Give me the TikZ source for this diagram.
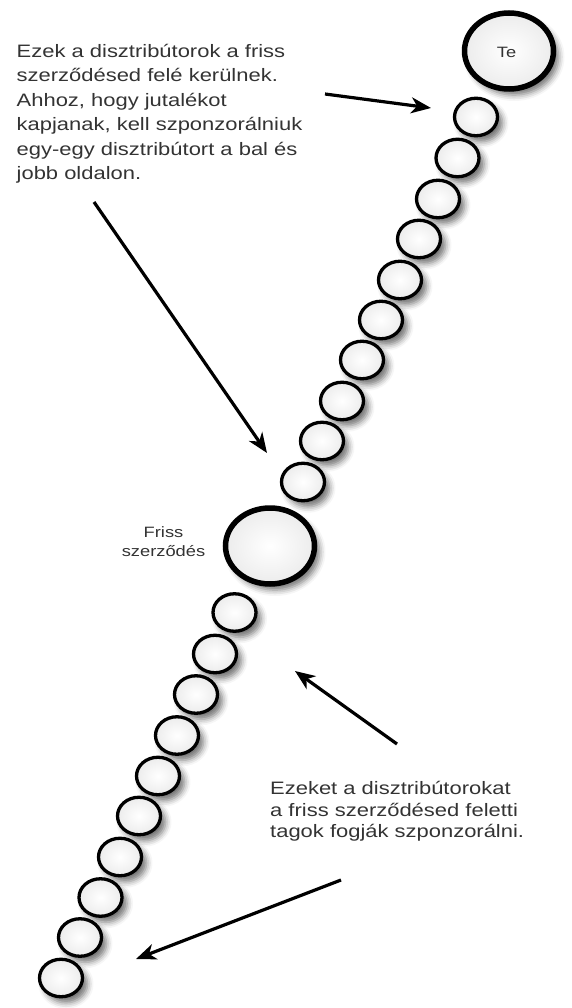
\documentclass[tikz,border=0pt]{standalone}
\usepackage{fontspec}
\newfontfamily\labelfont{Liberation Sans}[FakeStretch=1.22]
\usetikzlibrary{shapes.geometric,shadows.blur,arrows.meta}
\definecolor{txtgray}{HTML}{333333}
\begin{document}
\begin{tikzpicture}[x=1pt,y=-1pt,
  bead/.style={ellipse, draw=black, inner sep=0pt, outer sep=0pt,
    inner color=white, outer color=gray!15,
    blur shadow={shadow xshift=5pt, shadow yshift=-6pt, shadow blur radius=6pt, shadow opacity=55}},
  smallbead/.style={bead, line width=3.3pt, minimum width=43pt, minimum height=37.5pt},
  bigbead/.style={bead, line width=5.5pt, minimum width=89pt, minimum height=76pt},
  note/.style={font=\labelfont\fontsize{18}{24.5}\selectfont, text=txtgray, align=left, inner sep=0pt, anchor=north west},
  pointer/.style={-{Stealth[length=20pt,width=16pt,inset=6pt]}, line width=3.2pt, black}
]
\useasboundingbox (0,0) rectangle (572,1008);
% upper chain
\node[bigbead] (te) at (509,51) {};
\foreach \i/\x/\y in {1/476/117,2/457.5/158,3/438/199,4/419/239,5/400/280,6/381/320,7/362/360,8/342/401,9/322/441,10/303/482}
  \node[smallbead] (s\i) at (\x,\y) {};
\node[bigbead] (fr) at (270,546) {};
\foreach \i/\x/\y in {1/234.5/612.5,2/215/654,3/196/694.5,4/177/735.5,5/158/776,6/139/816,7/120/857,8/100.5/897.5,9/80/937.5,10/61/978}
  \node[smallbead] (t\i) at (\x,\y) {};
% labels
\node[font=\labelfont\fontsize{15}{19}\selectfont, text=txtgray, inner sep=0pt] (telbl) at (506.5,52.5) {Te};
\node[font=\labelfont\fontsize{15}{19}\selectfont, text=txtgray, align=center, inner sep=0pt] (frlbl) at (163.5,542) {Friss\\szerződés};
\node[note] (txt1) at (16.5,44) {Ezek a disztribútorok a friss\\szerződésed felé kerülnek.\\Ahhoz, hogy jutalékot\\kapjanak, kell szponzorálniuk\\egy-egy disztribútort a bal és\\jobb oldalon.};
\node[note, font=\labelfont\fontsize{18}{21.7}\selectfont] (txt3) at (270,781) {Ezeket a disztribútorokat\\a friss szerződésed feletti\\tagok fogják szponzorálni.};
% arrows
\coordinate (a1s) at (325,94);  \coordinate (a1e) at (431,108);
\coordinate (a2s) at (94,202);  \coordinate (a2e) at (267,453);
\coordinate (a3s) at (397,744); \coordinate (a3e) at (295,671);
\coordinate (a4s) at (341,880); \coordinate (a4e) at (136,959);
\draw[pointer] (a1s) -- (a1e);
\draw[pointer] (a2s) -- (a2e);
\draw[pointer] (a3s) -- (a3e);
\draw[pointer] (a4s) -- (a4e);
\end{tikzpicture}
\end{document}
